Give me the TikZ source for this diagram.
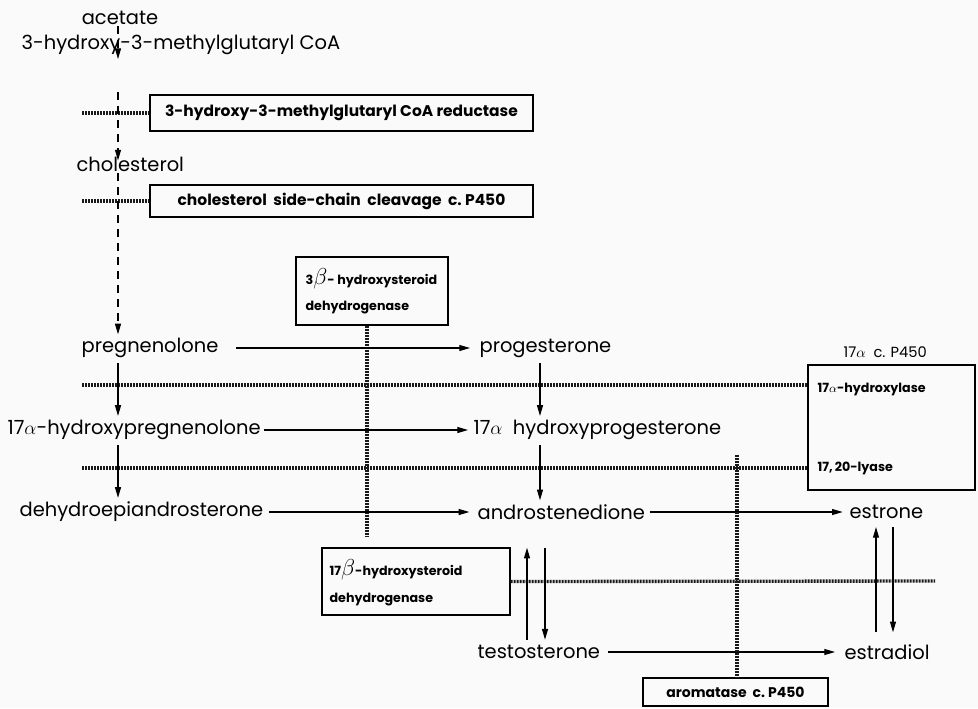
\documentclass[tikz,border=0pt]{standalone}
\usepackage{fontspec}
\setmainfont{Poppins}
\usetikzlibrary{arrows.meta}
\begin{document}
\begin{tikzpicture}[x=0.75pt,y=-0.75pt,
  lbl/.style={font=\fontsize{14.6}{16}\selectfont, inner sep=1pt},
  elbl/.style={font=\bfseries\fontsize{9.5}{11}\selectfont, inner sep=1pt},
  ebox/.style={draw, line width=1.1pt, font=\bfseries\fontsize{11.6}{13}\selectfont, inner sep=0pt},
  rx/.style={-{Triangle[length=8pt,width=4.5pt]}, line width=0.8pt},
  dashrx/.style={rx, dash pattern=on 6pt off 4.5pt},
  enz/.style={line width=2.5pt, black!90, dash pattern=on 1.5pt off 0.75pt}]
\useasboundingbox[fill=black!2] (0,0) rectangle (978,708);

% column references
\coordinate (colA) at (118,0);
\coordinate (colB) at (540,0);

% top of pathway
\node[lbl] (acetate) at (120,18) {acetate};
\node[lbl,anchor=west] (hmg) at (20,45) {3-hydroxy-3-methylglutaryl\ CoA};
\node[lbl,anchor=west] (chol) at (75,164) {cholesterol};
\node[ebox,minimum width=383*0.75pt,minimum height=36*0.75pt] (box1) at (341.5,113) {3-hydroxy-3-methylglutaryl CoA reductase};
\node[ebox,minimum width=383*0.75pt,minimum height=32*0.75pt] (box2) at (341.5,201) {cholesterol\ \ side-chain\ \ cleavage\ \ c.\ P450};
\coordinate (L1) at (82,113);
\coordinate (L2) at (82,201);
\draw[enz] (L1) -- (box1.west);
\draw[enz] (L2) -- (box2.west);

\draw[dashrx] (acetate.south -| colA) -- ([yshift=-2pt]hmg.south -| colA);
\draw[dashrx] ([yshift=-27pt]hmg.south -| colA) -- ([yshift=-4pt]chol.north -| colA);
\draw[dashrx] (chol.south -| colA) -- ([yshift=2pt]0,337 -| colA) coordinate (pregtop);

% 3beta box
\node[draw, line width=1.1pt, minimum width=152*0.75pt, minimum height=68*0.75pt, inner sep=0pt] (b3b) at (372,291) {};
\node[elbl,anchor=west] (b3bt1) at (304,279) {3{\fontsize{19}{19}\selectfont$\beta$}- hydroxysteroid};
\node[elbl,anchor=west] (b3bt2) at (304,308) {dehydrogenase};
\coordinate (b3end) at (367,537);
\draw[enz] (b3b.south -| b3end) -- (b3end);

% main rows
\node[lbl,anchor=west] (preg) at (80,348) {pregnenolone};
\node[lbl,anchor=west] (prog) at (478,348) {progesterone};
\node[lbl,anchor=west] (ohpreg) at (6,430) {17$\alpha$-hydroxypregnenolone};
\node[lbl,anchor=west] (ohprog) at (472,430) {17$\alpha$\ \ hydroxyprogesterone};
\node[lbl,anchor=west] (dhea) at (18,512) {dehydroepiandrosterone};
\node[lbl,anchor=west] (andro) at (476,512) {androstenedione};
\node[lbl,anchor=west] (estrone) at (848,512) {estrone};
\node[lbl,anchor=west] (testo) at (476,652) {testosterone};
\node[lbl,anchor=west] (estradiol) at (843,652) {estradiol};

\draw[rx, shorten <=12pt, shorten >=6pt] (preg) -- (prog);
\draw[rx, shorten <=1pt, shorten >=3pt] (ohpreg) -- (ohprog);
\draw[rx, shorten <=3pt, shorten >=5pt] (dhea) -- (andro);
\draw[rx, shorten <=3pt, shorten >=4pt] (andro) -- (estrone);
\draw[rx, shorten <=5pt, shorten >=6pt] (testo) -- (estradiol);

% 17alpha box
\node[draw, line width=1.1pt, minimum width=167*0.75pt, minimum height=125*0.75pt, inner sep=0pt] (b17a) at (891.5,427.5) {};
\node[elbl,anchor=west,font=\fontsize{11}{12}\selectfont] (b17ahead) at (842,352) {17$\alpha$\ \ c. P450};
\node[elbl,anchor=west] (b17at1) at (816,389) {17$\alpha$-hydroxylase};
\node[elbl,anchor=west] (b17at2) at (816,468) {17,\,20-lyase};
\coordinate (L3) at (82,385);
\coordinate (L4) at (82,468);
\draw[enz] (L3) -- (b17a.west |- L3);
\draw[enz] (L4) -- (b17a.west |- L4);

% vertical reactions
\draw[rx, shorten <=3pt, shorten >=2pt] (preg.south -| colA) -- (ohpreg.north -| colA);
\draw[rx, shorten <=3pt, shorten >=2pt] (ohpreg.south -| colA) -- (dhea.north -| colA);
\draw[rx, shorten <=3pt, shorten >=2pt] (prog.south -| colB) -- (ohprog.north -| colB);
\draw[rx, shorten <=3pt, shorten >=2pt] (ohprog.south -| colB) -- (andro.north -| colB);

% 17beta box
\node[draw, line width=1.1pt, minimum width=188*0.75pt, minimum height=67*0.75pt, inner sep=0pt] (b17b) at (416,581.5) {};
\node[elbl,anchor=west] (b17bt1) at (328,570) {17{\fontsize{19}{19}\selectfont$\beta$}-hydroxysteroid};
\node[elbl,anchor=west] (b17bt2) at (328,600) {dehydrogenase};
\coordinate (R17) at (935,581);
\draw[enz] (b17b.east) -- (R17);

\coordinate (ua) at (527,0);
\coordinate (da) at (545,0);
\coordinate (ue) at (876,0);
\coordinate (de) at (893,0);
\draw[rx, shorten <=3pt, shorten >=20pt] (testo.north -| ua) -- (andro.south -| ua);
\draw[rx, shorten <=20pt, shorten >=3pt] (andro.south -| da) -- (testo.north -| da);
\draw[rx, shorten <=8pt, shorten >=5pt] (estradiol.north -| ue) -- (estrone.south -| ue);
\draw[rx, shorten <=5pt, shorten >=8pt] (estrone.south -| de) -- (estradiol.north -| de);

% aromatase
\node[ebox,minimum width=185*0.75pt,minimum height=28*0.75pt,font=\bfseries\fontsize{10.5}{12}\selectfont] (arom) at (735.5,692) {aromatase\ \ c.\ P450};
\coordinate (aromtop) at (737,455);
\draw[enz] (aromtop) -- (arom.north -| aromtop);
\end{tikzpicture}
\end{document}
